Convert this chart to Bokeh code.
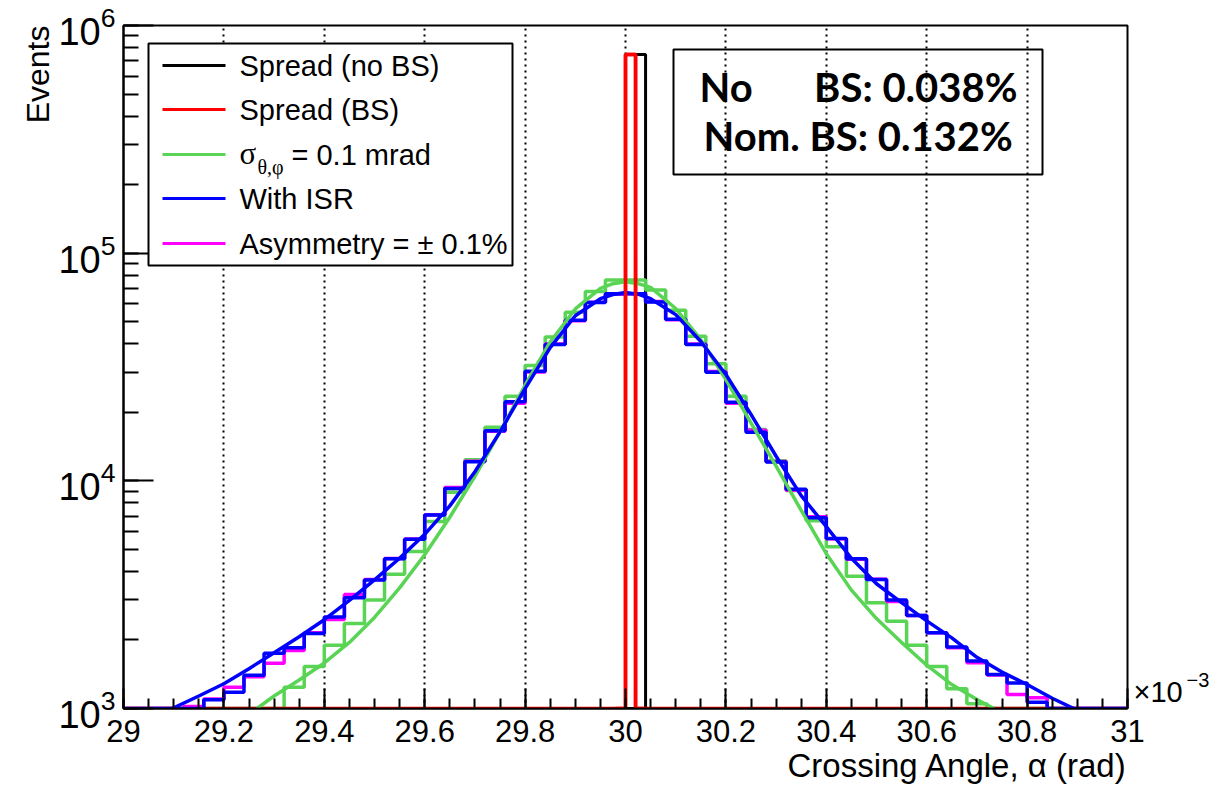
import numpy as np
from bokeh.plotting import figure
from bokeh.models import (FixedTicker, NumeralTickFormatter, Label, BoxAnnotation,
                          Arrow, Range1d, Title, LogAxis, CustomJSTickFormatter)
from bokeh.embed import file_html
from bokeh.resources import INLINE

# ---------------- data (x in units of 1e-3 rad) ----------------
bin_edges = np.round(np.linspace(29.0, 31.0, 51), 4)          # 0.04 bins

green_counts = [0, 0, 0, 0, 0, 0, 0, 0, 1241, 1531, 1896, 2361, 2994, 3890, 4890,
                6630, 8920, 12390, 17180, 23500, 32100, 42800, 55000, 67800, 76200,
                76200, 68900, 56100, 43200, 32700, 23500, 16790, 12250, 9060, 6670,
                5140, 3810, 2913, 2416, 1896, 1531, 1221, 1049, 0, 0, 0, 0, 0, 0, 0]

blue_counts = [0, 0, 0, 0, 1092, 1180, 1400, 1750, 1850, 2133, 2525, 3062, 3666,
               4550, 5533, 7079, 9250, 12130, 16600, 22230, 30300, 39700, 50700,
               60700, 66400, 66400, 61100, 51200, 39700, 30000, 22150, 16330, 12090,
               9190, 6890, 5580, 4550, 3690, 2993, 2560, 2153, 1862, 1615, 1412, 1293,
               1066, 0, 0, 0, 0]

magenta_counts = [0, 0, 0, 1020, 1100, 1241, 1380, 1580, 1800, 2150, 2460, 3170,
                  3690, 4560, 5550, 7100, 9350, 12200, 16500, 21900, 30100, 39900,
                  50500, 60900, 66200, 66300, 61300, 51000, 39900, 30200, 21900, 16700,
                  12150, 9100, 6950, 5560, 4520, 3700, 2950, 2560, 2153, 1850, 1590,
                  1405, 1153, 1115, 0, 0, 0, 0]

fine_edges = np.round(np.linspace(29.0, 31.0, 101), 4)        # 0.02 bins
spread_nobs_bin = 30.02
spread_bs_bin = 30.00
spread_peak = 745000

green_fit_x = [29.266, 29.30, 29.35, 29.40, 29.45, 29.50, 29.55, 29.60, 29.65, 29.70,
               29.75, 29.80, 29.85, 29.90, 29.95, 29.975, 30.00, 30.025, 30.05, 30.10,
               30.15, 30.20, 30.25, 30.30, 30.35, 30.40, 30.45, 30.50, 30.55, 30.60,
               30.65, 30.70, 30.734]
green_fit_y = [1000, 1135, 1334, 1585, 1950, 2512, 3388, 4732, 6918, 10471,
               16406, 26303, 40738, 56885, 69984, 73450, 74817, 73450, 70795, 57148,
               41687, 27861, 17989, 11614, 7413, 4786, 3311, 2483, 1950, 1549,
               1274, 1096, 1000]

blue_fit_x = [29.097, 29.15, 29.20, 29.25, 29.30, 29.35, 29.40, 29.45, 29.50, 29.55,
              29.60, 29.65, 29.70, 29.75, 29.80, 29.85, 29.90, 29.95, 29.975, 30.00,
              30.025, 30.05, 30.10, 30.15, 30.20, 30.25, 30.30, 30.35, 30.40, 30.45,
              30.50, 30.55, 30.60, 30.65, 30.70, 30.75, 30.80, 30.85, 30.893]
blue_fit_y = [1000, 1135, 1285, 1496, 1758, 2065, 2455, 2985, 3673, 4571,
              5821, 7762, 10965, 16406, 25410, 38459, 53088, 63096, 65766, 67143,
              66069, 63096, 53703, 40926, 29309, 19588, 12823, 8610, 6295, 4571,
              3532, 2917, 2427, 2042, 1679, 1445, 1274, 1109, 1000]

x_major_ticks = [29.0, 29.2, 29.4, 29.6, 29.8, 30.0, 30.2, 30.4, 30.6, 30.8, 31.0]
x_minor_ticks = [round(29.0 + 0.05 * i, 2) for i in range(41)]
x_scale_base = "\u00d710"
x_scale_exp = "\u22123"

legend_labels = ["Spread (no BS)", "Spread (BS)", None, "With ISR", "Asymmetry = \u00b1 0.1%"]
box_lines = ["No", "BS: 0.038%", "Nom. BS: 0.132%"]

# ---------------- figure ----------------
Y_MIN, Y_MAX = 1e3, 1e6
W, H = 1222, 788
FX0, FX1, FY0, FY1 = 123.0, 1127.0, 25.0, 708.0     # frame in canvas pixels
p = figure(width=W, height=H, x_range=Range1d(29.0, 31.0), y_range=Range1d(Y_MIN, Y_MAX),
           y_axis_type="log", output_backend="svg", toolbar_location=None,
           min_border_left=int(FX0), min_border_right=int(W - FX1),
           min_border_top=int(FY0), min_border_bottom=int(H - FY1))
p.background_fill_color = "white"
p.border_fill_color = "white"
p.outline_line_color = "black"
p.outline_line_width = 2

def X(px):
    return 29.0 + (px - FX0) / (FX1 - FX0) * 2.0
def Y(py):
    return 10 ** (3 + (FY1 - py) / (FY1 - FY0) * 3.0)

# axes
xa = p.xaxis[0]
xa.ticker = FixedTicker(ticks=x_major_ticks, minor_ticks=x_minor_ticks)
xa.formatter = NumeralTickFormatter(format="0.[0]")
xa.major_tick_in = 20
xa.major_tick_out = 0
xa.minor_tick_in = 10
xa.minor_tick_out = 0
xa.major_label_text_font = "Liberation Sans"
xa.major_label_text_font_size = "31px"
xa.major_label_standoff = 11

ya = p.yaxis[0]
ya.major_tick_in = 30
ya.major_tick_out = 0
ya.minor_tick_in = 15
ya.minor_tick_out = 0
ya.major_label_text_font = "Liberation Sans"
ya.major_label_text_font_size = "38px"
ya.major_label_standoff = 8

for ax in (xa, ya):
    ax.axis_line_color = "black"
    ax.axis_line_width = 2
    ax.major_tick_line_color = "black"
    ax.major_tick_line_width = 2
    ax.minor_tick_line_color = "black"
    ax.minor_tick_line_width = 2
    ax.major_label_text_color = "black"

# x-scale factor (x10^-3) written as tick labels of two bare right-hand axes
def scale_axis(txt, py, size, standoff):
    a = LogAxis(ticker=FixedTicker(ticks=[Y(py)]),
                formatter=CustomJSTickFormatter(code="return '%s'" % txt))
    a.axis_line_color = None
    a.major_tick_line_color = None
    a.minor_tick_line_color = None
    a.major_tick_out = 0
    a.minor_tick_out = 0
    a.major_tick_in = 0
    a.minor_tick_in = 0
    a.major_label_text_font = "Liberation Sans"
    a.major_label_text_font_size = f"{size}px"
    a.major_label_text_color = "black"
    a.major_label_standoff = standoff
    p.add_layout(a, "right")

scale_axis(x_scale_base, 691, 29, 6)
scale_axis(x_scale_exp, 679, 20, 1)

# axis titles
p.add_layout(Title(text="Crossing Angle, \u03b1 (rad)", align="right", text_font="Liberation Sans",
                   text_font_size="33px", text_font_style="normal", text_color="black",
                   standoff=0), "below")
p.add_layout(Title(text="Events", align="right", text_font="Liberation Sans",
                   text_font_size="32px", text_font_style="normal", text_color="black",
                   standoff=0), "left")

p.ygrid.visible = False
p.xgrid.grid_line_color = "black"
p.xgrid.grid_line_width = 2
p.xgrid.grid_line_dash = "2 4"

# ---------------- histograms ----------------
def step_xy(edges, counts):
    c = np.maximum(np.asarray(counts, dtype=float), Y_MIN)
    return list(edges), list(np.append(c, c[-1]))

nobs = np.zeros(100)
nobs[int(round((spread_nobs_bin - 29.0) / 0.02))] = spread_peak
bs = np.zeros(100)
bs[int(round((spread_bs_bin - 29.0) / 0.02))] = spread_peak

BLACK, RED, GREEN, BLUE, MAGENTA = "#000000", "#ff0000", "#59d454", "#0000ff", "#ff00ff"
LW = 3.5

x, y = step_xy(fine_edges, nobs)
p.step(x, y, mode="after", line_color=BLACK, line_width=3)
x, y = step_xy(bin_edges, green_counts)
p.step(x, y, mode="after", line_color=GREEN, line_width=LW)
x, y = step_xy(fine_edges, bs)
p.step(x, y, mode="after", line_color=RED, line_width=LW)
x, y = step_xy(bin_edges, magenta_counts)
p.step(x, y, mode="after", line_color=MAGENTA, line_width=LW)
x, y = step_xy(bin_edges, blue_counts)
p.step(x, y, mode="after", line_color=BLUE, line_width=LW)

p.line(green_fit_x, green_fit_y, line_color=GREEN, line_width=LW)
p.line(blue_fit_x, blue_fit_y, line_color=BLUE, line_width=LW)

# red spike redrawn on top
k = int(round((spread_bs_bin - 29.0) / 0.02))
x, y = step_xy(fine_edges[k - 1:k + 3], bs[k - 1:k + 2])
p.step(x, y, mode="after", line_color=RED, line_width=LW)

# ---------------- legend (ROOT style) ----------------
def text(px, py, s, size, font="Liberation Sans", align="left", style="normal"):
    # py = vertical centre of the text box in canvas pixels
    p.add_layout(Label(x=X(px), y=Y(py), text=s, text_font=font, text_font_size=f"{size}px",
                       text_baseline="middle", text_align=align, text_font_style=style,
                       text_color="black"))

p.add_layout(BoxAnnotation(left=X(148), right=X(512), top=Y(43), bottom=Y(265),
                           fill_color="white", fill_alpha=1.0, line_color="black",
                           line_alpha=1.0, line_width=2))
leg_colors = [BLACK, RED, GREEN, BLUE, MAGENTA]
leg_rows = [65, 109, 154, 198, 243]
for col, ry, txt in zip(leg_colors, leg_rows, legend_labels):
    p.add_layout(Arrow(end=None, x_start=X(162), x_end=X(225), y_start=Y(ry), y_end=Y(ry),
                       line_color=col, line_width=3))
    if txt is not None:
        text(239, ry, txt, 29)
text(239, 153, "\u03c3", 31, font="Liberation Serif")
text(257, 166, "\u03b8,\u03c6", 20, font="Liberation Serif")
text(291, 154, "= 0.1 mrad", 29)

# ---------------- text box ----------------
p.add_layout(BoxAnnotation(left=X(673), right=X(1042), top=Y(49), bottom=Y(174),
                           fill_alpha=0.0, line_color="black", line_alpha=1.0, line_width=2))
text(699, 86, box_lines[0], 40, font="Lato", style="bold")
text(1017, 86, box_lines[1], 40, font="Lato", style="bold", align="right")
text(703, 135, box_lines[2], 40, font="Lato", style="bold")

open("out.html", "w").write(file_html(p, INLINE))
